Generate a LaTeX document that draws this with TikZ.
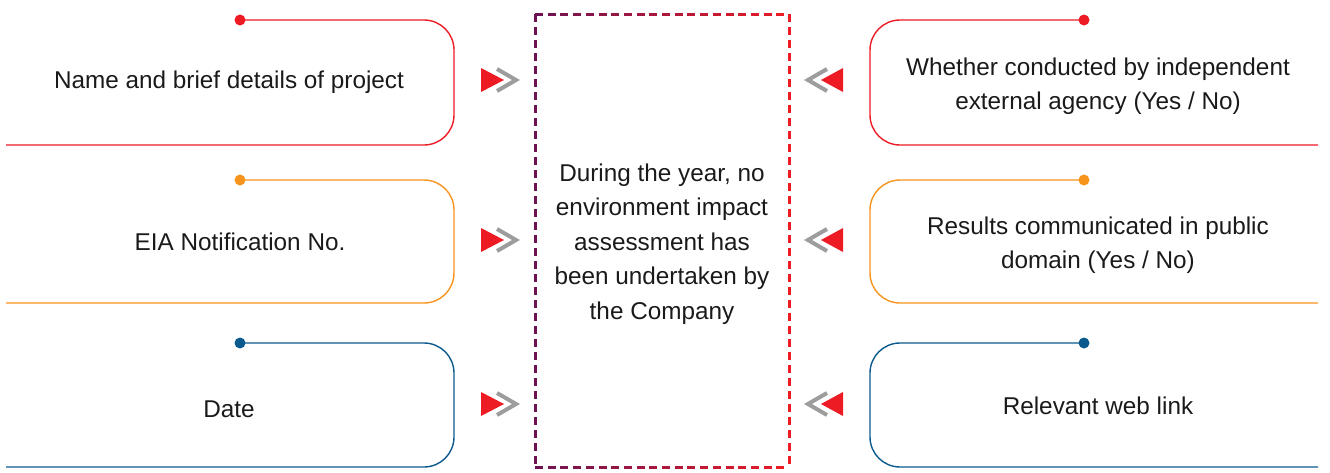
\documentclass[tikz,border=0pt]{standalone}
\usepackage{fontspec}
\setmainfont{Liberation Sans}
\usepackage{xcolor}
\usepackage{tikz}
\usetikzlibrary{positioning}

\definecolor{eiared}{HTML}{ED1C24}
\definecolor{eiaorange}{HTML}{F7941D}
\definecolor{eiablue}{HTML}{0B5A8E}
\definecolor{eiapurple}{HTML}{6E1352}
\definecolor{eiagrey}{HTML}{9D9D9D}
\definecolor{eiatext}{HTML}{1A1A1A}

\begin{document}
\begin{tikzpicture}[
  x=1pt, y=-1pt,
  bracket/.style={line width=1.4pt, rounded corners=30pt},
  label/.style={align=center, text=eiatext, font=\fontsize{24.3}{34.5}\selectfont, inner sep=0pt},
  chevron/.style={draw=eiagrey, line width=4pt, miter limit=10},
  tip/.style={fill=eiared},
  frame/.style={line width=3pt}
]
\useasboundingbox (0,0) rectangle (1330,472);

% left and right brackets
\foreach \c/\t/\b in {eiared/20/145, eiaorange/180/303, eiablue/343/467} {
  \draw[bracket, \c] (240,\t) -- (454,\t) -- (454,\b) -- (6,\b);
  \fill[\c] (240,\t) circle (5.5);
  \draw[bracket, \c] (1084,\t) -- (870,\t) -- (870,\b) -- (1318,\b);
  \fill[\c] (1084,\t) circle (5.5);
}

\node[label] (project) at (229,82) {Name and brief details of project};
\node[label] (notif) at (240,242) {EIA Notification No.};
\node[label] (date) at (229,409) {Date};
\node[label] (agency) at (1098,86) {Whether conducted by independent\\external agency (Yes / No)};
\node[label] (results) at (1098,245) {Results communicated in public\\domain (Yes / No)};
\node[label] (weblink) at (1098,406) {Relevant web link};
\node[label] (summary) at (662,244) {During the year, no\\environment impact\\assessment has\\been undertaken by\\the Company};

% arrow marks
\foreach \y in {80,240,404} {
  \draw[chevron] (497,\y-11) -- (516,\y) -- (497,\y+11);
  \fill[tip] (481,\y-12) -- (504,\y) -- (481,\y+12) -- cycle;
  \draw[chevron] (827,\y-11) -- (808,\y) -- (827,\y+11);
  \fill[tip] (843,\y-12) -- (821,\y) -- (843,\y+12) -- cycle;
}

% dashed centre frame, purple to red
\draw[frame, eiapurple, dash pattern=on 8pt off 5pt] (535,14) -- (535,467);
\draw[frame, eiared, dash pattern=on 8pt off 5pt] (789,14) -- (789,467);
\foreach \i in {0,...,19} {
  \pgfmathtruncatemacro\pct{100-\i*5}
  \draw[frame, eiapurple!\pct!eiared] (535+\i*12.7,14) -- ++(8,0);
  \draw[frame, eiapurple!\pct!eiared] (535+\i*12.7,467) -- ++(8,0);
}
\end{tikzpicture}
\end{document}
